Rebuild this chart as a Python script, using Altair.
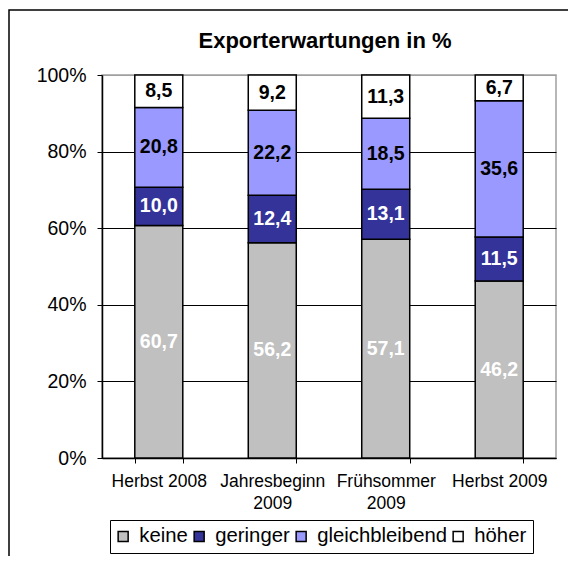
import altair as alt
import pandas as pd

title_text = ["Exporterwartungen in %"]
categories = ["Herbst 2008", "Jahresbeginn 2009", "Frühsommer 2009", "Herbst 2009"]
series = ["keine", "geringer", "gleichbleibend", "höher"]
keine = [60.7, 56.2, 57.1, 46.2]
geringer = [10.0, 12.4, 13.1, 11.5]
gleichbleibend = [20.8, 22.2, 18.5, 35.6]
hoeher = [8.5, 9.2, 11.3, 6.7]
colors = ["#C0C0C0", "#333399", "#9999FF", "#FFFFFF"]
y_ticks = [0, 20, 40, 60, 80, 100]

rows = []
for si, (name, vals) in enumerate(zip(series, [keine, geringer, gleichbleibend, hoeher])):
    for c, v in zip(categories, vals):
        rows.append({"cat": c, "series": name, "value": v, "idx": si})
df = pd.DataFrame(rows)

FONT = "Liberation Sans"
W, H = 454, 383

base = alt.Chart(df)

x_enc = alt.X(
    "cat:N",
    sort=categories,
    title=None,
    scale=alt.Scale(paddingInner=0.577, paddingOuter=0.289),
    axis=alt.Axis(
        labelAngle=0,
        labelFontSize=17.5,
        labelFont=FONT,
        labelColor="#000",
        labelPadding=9,
        labelLineHeight=22,
        labelExpr="indexof(datum.label, 'Herbst') == 0 ? datum.label : split(datum.label, ' ')",
        tickBand="extent",
        tickSize=5,
        tickColor="#000",
        domainColor="#000",
        domainWidth=1.5,
        grid=False,
    ),
)

bars = base.mark_bar(stroke="#000", strokeWidth=1.5).encode(
    x=x_enc,
    y=alt.Y(
        "value:Q",
        stack="zero",
        title=None,
        scale=alt.Scale(domain=[0, 100], nice=False),
        axis=alt.Axis(
            values=y_ticks,
            labelExpr="datum.value + '%'",
            labelFontSize=19.5,
            labelFont=FONT,
            labelColor="#000",
            labelPadding=11,
            tickSize=5,
            tickColor="#000",
            domainColor="#000",
            domainWidth=1.5,
            grid=True,
            gridColor={"condition": {"test": "datum.value >= 100", "value": "#a0a0a0"}, "value": "#000"},
            gridWidth=1,
        ),
    ),
    color=alt.Color(
        "series:N",
        scale=alt.Scale(domain=series, range=colors),
        legend=alt.Legend(
            title=None,
            orient="none",
            legendX=8,
            legendY=445,
            direction="horizontal",
            columns=4,
            strokeColor="#000",
            padding=6,
            symbolType="square",
            symbolSize=100,
            symbolStrokeColor="#000",
            symbolStrokeWidth=1.5,
            symbolOffset=-3,
            labelFontSize=20.3,
            labelFont=FONT,
            labelColor="#000",
            labelOffset=6,
            columnPadding=3,
        ),
    ),
    order=alt.Order("idx:Q"),
)

labels = base.transform_stack(
    stack="value", groupby=["cat"], as_=["y0", "y1"], sort=[alt.SortField("idx", order="ascending")]
).transform_calculate(
    ymid="(datum.y0 + datum.y1) / 2",
    lbl="replace(format(datum.value, '.1f'), '.', ',')",
).mark_text(fontSize=19.5, fontWeight="bold", font=FONT, baseline="middle").encode(
    x=alt.X("cat:N", sort=categories),
    y=alt.Y("ymid:Q"),
    text="lbl:N",
    color=alt.condition(
        "datum.series == 'keine' || datum.series == 'geringer'",
        alt.value("#FFFFFF"),
        alt.value("#000000"),
    ),
)

border = alt.Chart(pd.DataFrame({"a": [0]})).mark_rect(
    fillOpacity=0, stroke="#000", strokeWidth=1.5, clip=False
).encode(
    x=alt.value(-93), x2=alt.value(700), y=alt.value(-65), y2=alt.value(700)
)

title = alt.Chart(pd.DataFrame({"t": title_text})).mark_text(
    fontSize=22, font=FONT, fontWeight="bold", color="#000",
    align="center", baseline="alphabetic", clip=False,
).encode(x=alt.value(W / 2 - 4), y=alt.value(-27), text="t:N")

chart = alt.layer(border, bars, labels, title).properties(
    width=W,
    height=H,
    autosize=alt.AutoSizeParams(type="none"),
    padding={"left": 94, "top": 67, "right": 12, "bottom": 98},
).configure_view(stroke="#a0a0a0", strokeWidth=1.5)

chart.save("out.html", embed_options={"renderer": "svg", "actions": False})
